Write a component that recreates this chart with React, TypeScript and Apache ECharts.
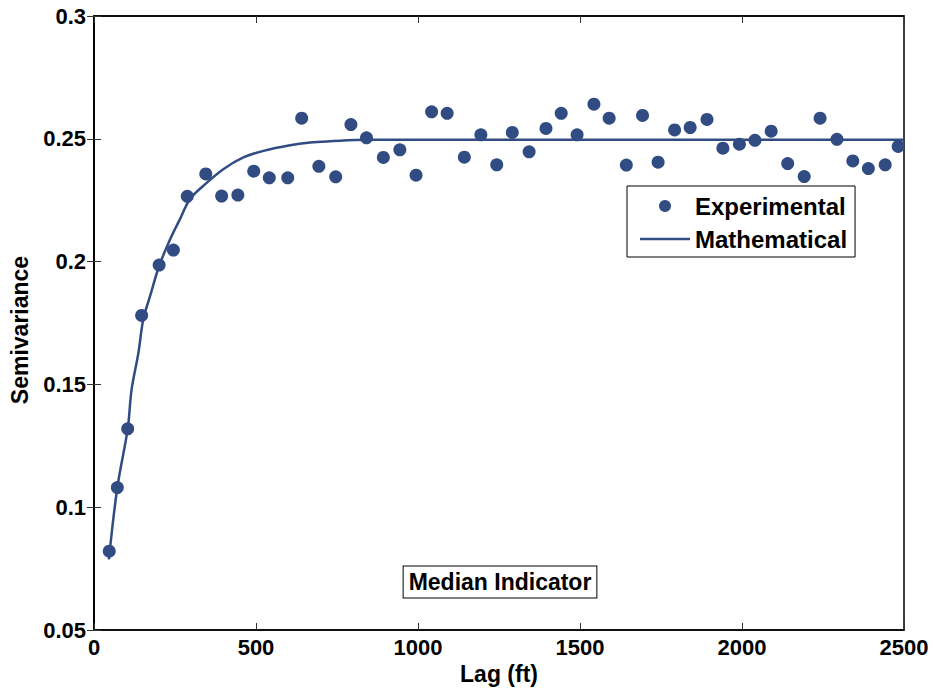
import React, { useEffect, useRef } from "react";
import * as echarts from "echarts";

// Experimental semivariogram points [lag (ft), semivariance]
const expLags = [47, 72, 104, 147, 201, 245, 288, 345, 394, 444, 493, 541, 598, 641, 694, 746, 793, 841, 893, 944, 994, 1042, 1090, 1143, 1194, 1243, 1291, 1343, 1395, 1442, 1491, 1543, 1590, 1643, 1693, 1741, 1792, 1840, 1892, 1941, 1992, 2040, 2090, 2141, 2192, 2241, 2293, 2342, 2390, 2442, 2482];
const expValues = [0.0821, 0.108, 0.1319, 0.1781, 0.1986, 0.2047, 0.2266, 0.2357, 0.2267, 0.2271, 0.2368, 0.2341, 0.2341, 0.2584, 0.2388, 0.2345, 0.2558, 0.2504, 0.2424, 0.2455, 0.2352, 0.261, 0.2604, 0.2425, 0.2516, 0.2394, 0.2526, 0.2447, 0.2542, 0.2604, 0.2516, 0.2641, 0.2584, 0.2393, 0.2595, 0.2405, 0.2536, 0.2546, 0.2579, 0.2462, 0.2478, 0.2494, 0.2531, 0.2399, 0.2346, 0.2584, 0.2498, 0.241, 0.2379, 0.2394, 0.2469];

// Mathematical model curve
const modelLags = [46, 72, 104, 116, 137, 152, 173, 201, 235, 265, 296, 337, 399, 461, 523, 605, 667, 728, 842, 2500];
const modelValues = [0.0788, 0.108, 0.1319, 0.1479, 0.1628, 0.1764, 0.1859, 0.1982, 0.2091, 0.2172, 0.2254, 0.2308, 0.2376, 0.2424, 0.2451, 0.2474, 0.2485, 0.249, 0.2496, 0.2496];

const xTicks = { min: 0, max: 2500, interval: 500 };
const yTicks = { min: 0.05, max: 0.3, interval: 0.05 };

const COLOR = "#314c83";
const FONT = "'Liberation Sans', Arial, Helvetica, sans-serif";

export default function App() {
  const ref = useRef<HTMLDivElement>(null);
  useEffect(() => {
    if (!ref.current) return;
    const chart = echarts.init(ref.current, null, { renderer: "svg" });
    const labelStyle = { fontFamily: FONT, fontWeight: "bold" as const, fontSize: 22, color: "#000" };
    const tickStyle = { show: true, inside: true, length: 7, lineStyle: { color: "#333", width: 1 } };
    chart.setOption({
      animation: false,
      backgroundColor: "#fff",
      grid: { left: 94, top: 16, right: 29, bottom: 62, show: true, borderColor: "#000", borderWidth: 1.5, backgroundColor: "transparent" },
      xAxis: [
        {
          type: "value", ...xTicks, position: "bottom",
          name: "Lag (ft)", nameLocation: "middle", nameGap: 22,
          nameTextStyle: { ...labelStyle, fontSize: 23 },
          axisLine: { show: true, lineStyle: { color: "#000", width: 1.5 } },
          axisTick: tickStyle,
          axisLabel: { ...labelStyle, margin: 6, formatter: (v: number) => String(v) },
          splitLine: { show: false },
        },
        {
          type: "value", ...xTicks, position: "top",
          axisLine: { show: true, lineStyle: { color: "#000", width: 1.5 } },
          axisTick: tickStyle, axisLabel: { show: false }, splitLine: { show: false },
        },
      ],
      yAxis: [
        {
          type: "value", ...yTicks, position: "left",
          axisLine: { show: true, lineStyle: { color: "#000", width: 1.5 } },
          axisTick: tickStyle,
          axisLabel: { ...labelStyle, margin: 8 },
          splitLine: { show: false },
        },
        {
          type: "value", ...yTicks, position: "right",
          axisLine: { show: true, lineStyle: { color: "#000", width: 1.5 } },
          axisTick: tickStyle, axisLabel: { show: false }, splitLine: { show: false },
        },
      ],
      legend: {
        orient: "vertical",
        left: 627, top: 186,
        padding: [8, 8, 6, 13],
        itemGap: 9,
        itemWidth: 50, itemHeight: 12,
        backgroundColor: "#fff",
        borderColor: "#000", borderWidth: 1, borderRadius: 0,
        textStyle: { ...labelStyle, fontSize: 24, lineHeight: 24 },
        data: [
          { name: "Experimental", icon: "circle" },
          { name: "Mathematical", icon: "path://M0,0 H50 V2.5 H0 Z" },
        ],
      },
      graphic: [
        {
          type: "text",
          x: 500, y: 582, z: 100,
          style: {
            text: "Median Indicator",
            font: `bold 23px ${FONT}`,
            fill: "#000",
            align: "center", verticalAlign: "middle",
            backgroundColor: "#fff",
            borderColor: "#000", borderWidth: 1,
            padding: [5, 5, 3, 5],
          },
        },
        {
          type: "text",
          x: 20, y: 330, rotation: Math.PI / 2, z: 100,
          style: {
            text: "Semivariance",
            font: `bold 23px ${FONT}`,
            fill: "#000",
            align: "center", verticalAlign: "middle",
          },
        },
      ],
      series: [
        {
          name: "Mathematical",
          type: "line",
          xAxisIndex: 0, yAxisIndex: 0,
          data: modelLags.map((x, i) => [x, modelValues[i]]),
          symbol: "none",
          smooth: 0.35,
          lineStyle: { color: COLOR, width: 2.5 },
          itemStyle: { color: COLOR },
          z: 2,
        },
        {
          name: "Experimental",
          type: "scatter",
          xAxisIndex: 0, yAxisIndex: 0,
          data: expLags.map((x, i) => [x, expValues[i]]),
          symbol: "circle",
          symbolSize: 13,
          itemStyle: { color: COLOR, opacity: 1 },
          z: 3,
        },
      ],
    });
    return () => chart.dispose();
  }, []);
  return <div ref={ref} style={{ width: 933, height: 692, position: "absolute", left: 0, top: 0 }} />;
}
